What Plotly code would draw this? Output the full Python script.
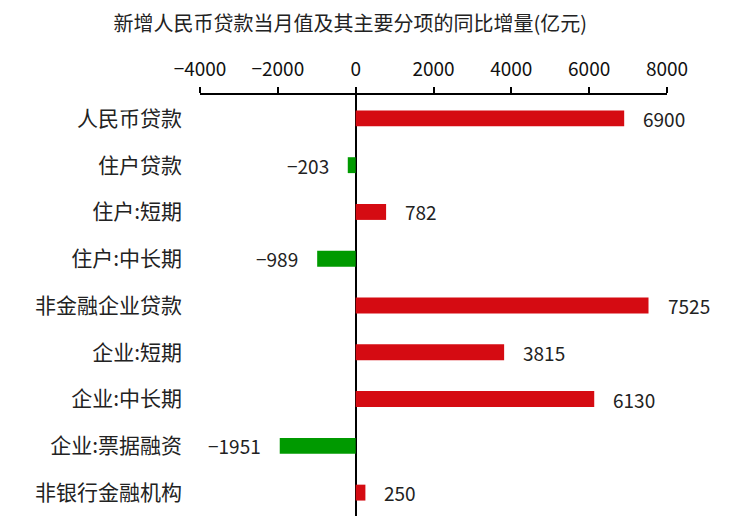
import plotly.graph_objects as go

categories = ["人民币贷款", "住户贷款", "住户:短期", "住户:中长期", "非金融企业贷款",
              "企业:短期", "企业:中长期", "企业:票据融资", "非银行金融机构"]
values = [6900, -203, 782, -989, 7525, 3815, 6130, -1951, 250]
tick_vals = [-4000, -2000, 0, 2000, 4000, 6000, 8000]

RED = "#D50B12"
GREEN = "#009A00"
FONT = "Noto Sans CJK SC"

colors = [RED if v >= 0 else GREEN for v in values]

fig = go.Figure()
fig.add_trace(go.Bar(
    x=values, y=categories, orientation="h",
    marker=dict(color=colors, line=dict(width=0)),
    width=0.34, hoverinfo="skip",
))

for c, v in zip(categories, values):
    lab = str(v) if v >= 0 else "\u2212" + str(abs(v))
    fig.add_annotation(
        x=v, y=c, text=lab, showarrow=False,
        xanchor="left" if v >= 0 else "right",
        xshift=17 if v >= 0 else -17,
        font=dict(family=FONT, size=19, color="#222222"),
    )

fig.update_layout(
    width=739, height=520,
    margin=dict(l=192, r=80, t=87, b=12),
    paper_bgcolor="white", plot_bgcolor="white",
    showlegend=False,
    font=dict(family=FONT, size=18, color="#222222"),
    title=dict(text="新增人民币贷款当月值及其主要分项的同比增量(亿元)",
               x=0.463, xanchor="center", y=0.969, yanchor="middle",
               font=dict(family=FONT, size=20, color="#222222")),
)
fig.update_xaxes(
    side="top", range=[-4000, 8000], tickvals=tick_vals, automargin=False,
    showgrid=False, showline=True, linecolor="black", linewidth=1.5,
    ticks="outside", ticklen=6, tickwidth=1.5, tickcolor="black",
    zeroline=True, zerolinecolor="black", zerolinewidth=2,
    tickfont=dict(family=FONT, size=19, color="#111111"),
    ticklabelstandoff=4,
)
fig.update_yaxes(
    categoryorder="array", categoryarray=categories, autorange="reversed",
    automargin=False,
    showgrid=False, showline=False, ticks="",
    tickfont=dict(family=FONT, size=21, color="#222222"),
    ticklabelstandoff=17,
)

fig.write_html("out.html")
